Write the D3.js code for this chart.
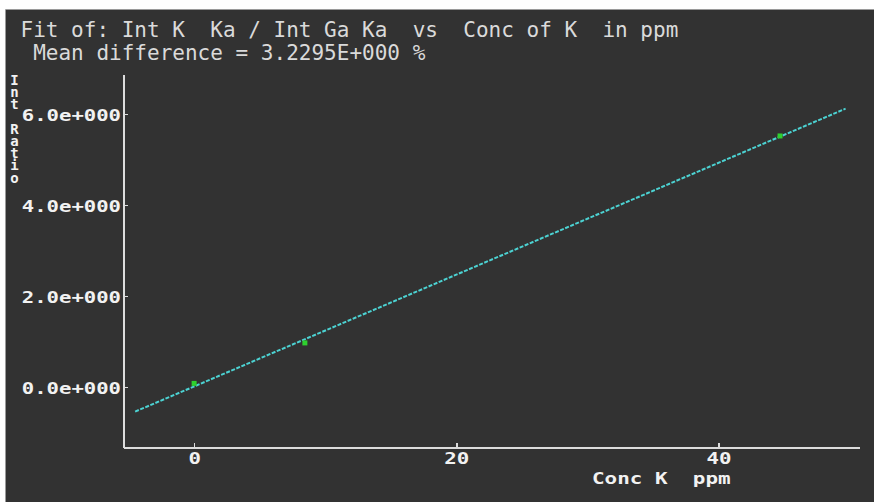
<!DOCTYPE html>
<html>
<head>
<meta charset="utf-8">
<script src="https://cdn.jsdelivr.net/npm/d3@7"></script>
<style>
  html, body { margin: 0; padding: 0; background: #ffffff; }
  svg { display: block; }
  text { white-space: pre; }
</style>
</head>
<body>
<svg id="chart" width="874" height="502"></svg>
<script>
// Calibration standards: concentration of K (ppm) vs intensity ratio K Ka / Ga Ka
const concK = [0, 8.45, 44.7];
const intRatio = [0.08, 0.97, 5.52];

// Fitted calibration line, sampled at its two ends
const fitConc = [-4.5, 49.7];
const fitRatio = [-0.54, 6.12];

// Axis ticks and their labels
const xTicks = [0, 20, 40];
const xTickLabels = ["0", "20", "40"];
const yTicks = [0, 2, 4, 6];
const yTickLabels = ["0.0e+000", "2.0e+000", "4.0e+000", "6.0e+000"];

const titleLines = [
  "Fit of: Int K  Ka / Int Ga Ka  vs  Conc of K  in ppm",
  " Mean difference = 3.2295E+000 %"
];
const xAxisTitle = "Conc K  ppm";
const yAxisTitle = "Int Ratio";

const svg = d3.select("#chart");
const W = 874, H = 502;

// Dark panel
svg.append("rect").attr("x", 6).attr("y", 9).attr("width", W - 6).attr("height", H - 9)
  .attr("fill", "#323232");
svg.append("path").attr("d", `M5.5,${H} V9.5 H${W}`).attr("fill", "none")
  .attr("stroke", "#9a9a9a").attr("stroke-width", 1);

const x = d3.scaleLinear().domain([-5.35, 50.8]).range([124, 860]);
const y = d3.scaleLinear().domain([-1.34, 6.86]).range([448, 75]);

const monoBold = "'DejaVu Sans Mono', monospace";
const axisColor = "#dcdcdc";
const labelColor = "#f2f2f2";
const charW = 12.5;

// Title block
svg.selectAll("text.title").data(titleLines).join("text")
  .attr("class", "title")
  .attr("x", 20.5)
  .attr("y", (d, i) => 36.7 + i * 23.3)
  .attr("font-family", monoBold)
  .attr("font-size", 20.5)
  .attr("fill", "#dadada")
  .attr("textLength", d => d.length * 12.65)
  .attr("lengthAdjust", "spacingAndGlyphs")
  .text(d => d);

// X axis
const xAxis = d3.axisBottom(x)
  .tickValues(xTicks)
  .tickFormat((d, i) => xTickLabels[i])
  .tickSizeInner(-5)
  .tickSizeOuter(0);
const gx = svg.append("g").attr("transform", "translate(0,448)").call(xAxis);
gx.select(".domain").attr("stroke", axisColor).attr("stroke-width", 2)
  .attr("d", `M${x.range()[0]},0H${x.range()[1]}`);
gx.selectAll(".tick line").attr("stroke", axisColor).attr("stroke-width", 1.5);
gx.selectAll(".tick text")
  .attr("y", 16).attr("dy", 0)
  .attr("fill", labelColor)
  .attr("font-family", monoBold).attr("font-weight", "bold").attr("font-size", 15)
  .attr("textLength", function () { return this.textContent.length * charW; })
  .attr("lengthAdjust", "spacingAndGlyphs");

// Y axis
const yAxis = d3.axisLeft(y)
  .tickValues(yTicks)
  .tickFormat((d, i) => yTickLabels[i])
  .tickSizeInner(-4)
  .tickSizeOuter(0)
  .tickPadding(3);
const gy = svg.append("g").attr("transform", "translate(124,0)").call(yAxis);
gy.select(".domain").attr("stroke", axisColor).attr("stroke-width", 2)
  .attr("d", `M0,${y.range()[1]}V${y.range()[0]}`);
gy.selectAll(".tick line").attr("stroke", axisColor).attr("stroke-width", 1.5);
gy.selectAll(".tick text")
  .attr("dy", 6.5)
  .attr("fill", labelColor)
  .attr("font-family", monoBold).attr("font-weight", "bold").attr("font-size", 15)
  .attr("textLength", function () { return this.textContent.length * 12.4; })
  .attr("lengthAdjust", "spacingAndGlyphs");
svg.selectAll(".domain, .tick line").attr("shape-rendering", "crispEdges");

// X axis title
svg.append("text")
  .attr("x", 592).attr("y", 483.5)
  .attr("fill", labelColor)
  .attr("font-family", monoBold).attr("font-weight", "bold").attr("font-size", 15)
  .attr("textLength", xAxisTitle.length * 12.6)
  .attr("lengthAdjust", "spacingAndGlyphs")
  .text(xAxisTitle);

// Y axis title, letters stacked upright in one column
svg.append("text")
  .attr("x", 14.5)
  .attr("y", 72)
  .attr("fill", labelColor)
  .attr("font-family", monoBold).attr("font-weight", "bold").attr("font-size", 14)
  .style("writing-mode", "vertical-rl")
  .style("text-orientation", "upright")
  .style("letter-spacing", "-3.8px")
  .text(yAxisTitle);

// Fitted line
const fitData = fitConc.map((c, i) => [c, fitRatio[i]]);
svg.append("path")
  .datum(fitData)
  .attr("d", d3.line().x(d => x(d[0])).y(d => y(d[1])))
  .attr("fill", "none")
  .attr("stroke", "#4cd2d2")
  .attr("stroke-width", 2)
  .attr("stroke-dasharray", "4 1.5");

// Standards
const pts = concK.map((c, i) => ({ c, r: intRatio[i] }));
svg.selectAll("rect.pt").data(pts).join("rect")
  .attr("class", "pt")
  .attr("x", d => x(d.c) - 2.5)
  .attr("y", d => y(d.r) - 2.5)
  .attr("width", 5).attr("height", 5)
  .attr("fill", "#2ed12e");
</script>
</body>
</html>
